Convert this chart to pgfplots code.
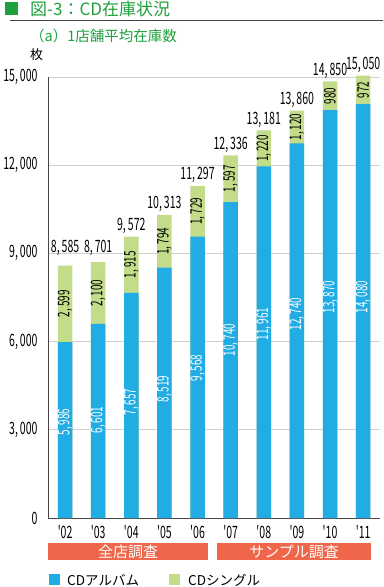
\documentclass[border=0pt]{standalone}
\usepackage{fontspec}
\usepackage{pgfplots}
\usepackage{pgfplotstable}
\pgfplotsset{compat=1.18}
\setmainfont{Noto Sans CJK JP}
\newfontfamily\numfont[FakeStretch=0.62]{Noto Sans CJK JP}
\definecolor{album}{HTML}{22ACE4}
\definecolor{single}{HTML}{C2DC8A}
\definecolor{ttl}{HTML}{1EA03C}
\definecolor{band}{HTML}{F0664A}
\definecolor{gridc}{HTML}{D0D0D0}
\definecolor{axc}{HTML}{4A4444}
\newcommand\thsep{,\kern2pt}
\newcommand\nf{\numfont\fontsize{17}{18}\selectfont}
\newcommand\barf{\numfont\fontsize{16}{17}\selectfont}
\tikzset{
 albl/.style={rotate=90, text=white, font=\barf, inner sep=0pt},
 slbl/.style={rotate=90, text=black, font=\barf, inner sep=0pt},
 tlbl/.style={anchor=base, text=black, font=\nf, inner sep=0pt},
}
% album, single, total (= album + single)
\pgfplotstableread{
x album single total
0 5986 2599 8585
1 6601 2100 8701
2 7657 1915 9572
3 8519 1794 10313
4 9568 1729 11297
5 10740 1597 12336
6 11961 1220 13181
7 12740 1120 13860
8 13870 980 14850
9 14080 972 15050
}\cddata
\begin{document}
\begin{tikzpicture}
\path (0pt,0pt) rectangle (380pt,-587pt);
% title
\fill[ttl] (2pt,-2pt) rectangle (15pt,-15pt);
\node[anchor=base west, text=ttl, inner sep=0pt, font=\fontsize{17}{18}\selectfont] at (27pt,-15.5pt) {図-3：CD在庫状況};
\draw[axc, line width=1.3pt] (7pt,-20.5pt) -- (380pt,-20.5pt);
\node[anchor=base west, text=ttl, inner sep=0pt, font=\fontsize{14.5}{15}\selectfont] at (27pt,-41pt) {（a）1店舗平均在庫数};
\node[anchor=base west, inner sep=0pt, font=\fontsize{13}{14}\selectfont] at (27pt,-59pt) {枚};
\begin{axis}[
 at={(45pt,-518pt)}, anchor=south west,
 width=332pt, height=441pt, scale only axis,
 xmin=-0.514, xmax=9.51, ymin=0, ymax=15000,
 ybar, bar width=14.5pt, bar shift=0pt,
 axis x line*=bottom, axis y line*=left,
 axis line style={axc, line width=1pt},
 ymajorgrids, grid style={gridc, line width=0.8pt},
 scaled y ticks=false,
 ytick={0,3000,6000,9000,12000,15000},
 yticklabels={0,{3\thsep000},{6\thsep000},{9\thsep000},{12\thsep000},{15\thsep000}},
 xtick={0,1,2,3,4,5,6,7,8,9},
 xticklabels={{'02},{'03},{'04},{'05},{'06},{'07},{'08},{'09},{'10},{'11}},
 major tick length=0pt,
 tick label style={font=\nf, text=black},
 yticklabel style={xshift=-7pt},
 xticklabel style={yshift=-4pt},
 clip=false,
]
% green segment = CD single on top of album (bar up to total)
\addplot[fill=single, draw=none, bar shift=0pt] table[x=x, y=total] {\cddata};
\addplot[fill=album, draw=none, bar shift=0pt] table[x=x, y=album] {\cddata};
% album labels
\node[albl] at (axis cs:0,3265) {5\thsep986};
\node[albl] at (axis cs:1,3333) {6\thsep601};
\node[albl] at (axis cs:2,3945) {7\thsep657};
\node[albl] at (axis cs:3,4387) {8\thsep519};
\node[albl] at (axis cs:4,5101) {9\thsep568};
\node[albl] at (axis cs:5,6054) {10\thsep740};
\node[albl] at (axis cs:6,6598) {11\thsep961};
\node[albl] at (axis cs:7,6938) {12\thsep740};
\node[albl] at (axis cs:8,7516) {13\thsep870};
\node[albl] at (axis cs:9,7516) {14\thsep080};
% single labels
\node[slbl] at (axis cs:0,7286) {2\thsep599};
\node[slbl] at (axis cs:1,7651) {2\thsep100};
\node[slbl] at (axis cs:2,8615) {1\thsep915};
\node[slbl] at (axis cs:3,9416) {1\thsep794};
\node[slbl] at (axis cs:4,10433) {1\thsep729};
\node[slbl] at (axis cs:5,11539) {1\thsep597};
\node[slbl] at (axis cs:6,12571) {1\thsep220};
\node[slbl] at (axis cs:7,13300) {1\thsep120};
\node[slbl] at (axis cs:8,14360) {980};
\node[slbl] at (axis cs:9,14566) {972};
% totals
\node[tlbl] at (axis cs:0,9047) {8\thsep585};
\node[tlbl] at (axis cs:1,9047) {8\thsep701};
\node[tlbl] at (axis cs:2,9776) {9\thsep572};
\node[tlbl] at (axis cs:3,10517) {10\thsep313};
\node[tlbl] at (axis cs:4,11501) {11\thsep297};
\node[tlbl] at (axis cs:5,12540) {12\thsep336};
\node[tlbl] at (axis cs:6,13385) {13\thsep181};
\node[tlbl] at (axis cs:7,14064) {13\thsep860};
\node[tlbl] at (axis cs:8,15054) {14\thsep850};
\node[tlbl] at (axis cs:9,15254) {15\thsep050};
\end{axis}
% survey bands
\fill[band] (45pt,-543pt) rectangle (205pt,-560pt);
\fill[band] (214pt,-543pt) rectangle (368pt,-560pt);
\node[text=white, font=\fontsize{15}{16}\selectfont, inner sep=0pt] at (125pt,-551.5pt) {全店調査};
\node[text=white, font=\fontsize{15}{16}\selectfont, inner sep=0pt] at (291pt,-551.5pt) {サンプル調査};
% legend
\fill[album] (46pt,-574pt) rectangle (57pt,-585pt);
\node[anchor=base west, inner sep=0pt, font=\fontsize{13.5}{14}\selectfont] at (64pt,-585pt) {CDアルバム};
\fill[single] (166pt,-574pt) rectangle (177pt,-585pt);
\node[anchor=base west, inner sep=0pt, font=\fontsize{13.5}{14}\selectfont] at (185pt,-585pt) {CDシングル};
\end{tikzpicture}
\end{document}
